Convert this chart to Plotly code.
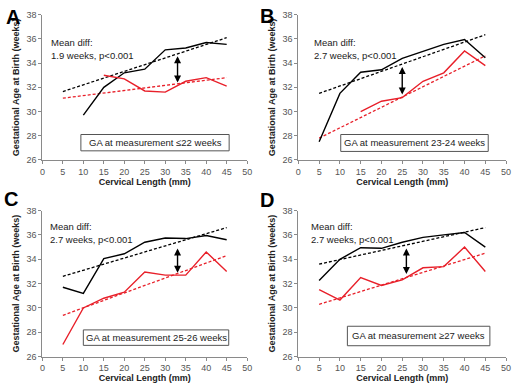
import plotly.graph_objects as go

cl = [5, 10, 15, 20, 25, 30, 35, 40, 45]

# Panel data (None = no point)
A_black = [None, 29.7, 32.0, 33.2, 33.5, 35.1, 35.25, 35.7, 35.55]
A_red = [None, None, 33.0, 32.7, 31.7, 31.6, 32.5, 32.8, 32.1]
A_black_fit = [31.65, 36.1]
A_red_fit = [31.1, 32.8]

B_black = [27.5, 31.5, 33.25, 33.45, 34.4, 34.95, 35.55, 35.95, 34.45]
B_red = [None, None, 30.0, 30.85, 31.15, 32.5, 33.2, 35.0, 33.8]
B_black_fit = [31.5, 36.35]
B_red_fit = [27.8, 34.6]

C_black = [31.7, 31.2, 34.05, 34.45, 35.4, 35.75, 35.7, 35.95, 35.6]
C_red = [27.0, 30.0, 30.8, 31.3, 32.95, 32.7, 32.7, 34.6, 33.0]
C_black_fit = [32.6, 36.6]
C_red_fit = [29.4, 34.3]

D_black = [32.25, 34.0, 34.95, 34.9, 35.4, 35.8, 36.0, 36.2, 35.0]
D_red = [31.5, 30.65, 32.5, 31.85, 32.3, 33.3, 33.4, 35.0, 33.0]
D_black_fit = [33.6, 36.6]
D_red_fit = [30.3, 34.5]

fit_x = [5, 45]
letters = ["A", "B", "C", "D"]
mean_diff = ["1.9 weeks, p<0.001", "2.7 weeks, p<0.001", "2.7 weeks, p<0.001", "2.7 weeks, p<0.001"]
box_labels = ["GA at measurement \u226422 weeks", "GA at measurement 23-24 weeks",
              "GA at measurement 25-26 weeks", "GA at measurement \u226527 weeks"]
arrow_x = [33, 25, 33, 26]
arrow_top = [34.7, 33.8, 35.0, 35.0]
arrow_bot = [32.4, 31.4, 32.9, 32.8]
text_x = [1.6, 3.4, 1.4, 2.5]
text_y = [(35.7, 34.65), (35.7, 34.65), (36.67, 35.65), (36.67, 35.65)]
box_x = [(9.4, 45.6), (10.2, 45.7), (10.0, 45.5), (11.8, 46.1)]
box_y = [(26.75, 28.1), (26.7, 28.1), (26.93, 28.2), (26.9, 28.5)]

panels = [
    (A_black, A_red, A_black_fit, A_red_fit),
    (B_black, B_red, B_black_fit, B_red_fit),
    (C_black, C_red, C_black_fit, C_red_fit),
    (D_black, D_red, D_black_fit, D_red_fit),
]

W, H = 517, 388
# pixel plot areas: (left, right, top, bottom)
areas = [(40, 248, 10, 159), (300, 511, 10, 159), (40, 248, 211, 361), (300, 511, 211, 361)]

FONT = "Liberation Sans, Arial, sans-serif"
fig = go.Figure()
layout = dict(width=W, height=H, margin=dict(l=0, r=0, t=0, b=0),
              paper_bgcolor="white", plot_bgcolor="white", showlegend=False,
              font=dict(family=FONT, color="#222"))
annotations = []
shapes = []

for i, (blk, red, bfit, rfit) in enumerate(panels):
    n = "" if i == 0 else str(i + 1)
    xa, ya = "x" + n, "y" + n
    l, r, t, b = areas[i]
    layout["xaxis" + n] = dict(domain=[l / W, r / W], range=[0, 50], dtick=5, anchor=ya,
                               showline=True, linecolor="#8a8a8a", linewidth=1, ticks="outside",
                               ticklen=3, tickcolor="#8a8a8a", showgrid=False, zeroline=False,
                               tickfont=dict(size=9, color="#555"),
                               title=dict(text="<b>Cervical Length (mm)</b>", font=dict(size=9, color="#222"), standoff=2))
    layout["yaxis" + n] = dict(domain=[1 - b / H, 1 - t / H], range=[26, 38], dtick=2, anchor=xa,
                               showline=True, linecolor="#8a8a8a", linewidth=1, ticks="outside",
                               ticklen=3, tickcolor="#8a8a8a", showgrid=False, zeroline=False,
                               tickfont=dict(size=9, color="#555"),
                               title=dict(text="<b>Gestational Age at Birth (weeks)</b>", font=dict(size=9, color="#222"), standoff=5))
    fig.add_trace(go.Scatter(x=fit_x, y=bfit, mode="lines", xaxis=xa, yaxis=ya,
                             line=dict(color="black", width=1.3, dash="3px,2px")))
    fig.add_trace(go.Scatter(x=fit_x, y=rfit, mode="lines", xaxis=xa, yaxis=ya,
                             line=dict(color="#e8202a", width=1.3, dash="3px,2px")))
    fig.add_trace(go.Scatter(x=cl, y=blk, mode="lines", xaxis=xa, yaxis=ya,
                             line=dict(color="black", width=1.4)))
    fig.add_trace(go.Scatter(x=cl, y=red, mode="lines", xaxis=xa, yaxis=ya,
                             line=dict(color="#e8202a", width=1.4)))
    annotations.append(dict(x=text_x[i], y=text_y[i][0], xref=xa, yref=ya, text="Mean diff:", showarrow=False,
                            xanchor="left", font=dict(size=9.5, color="#222")))
    annotations.append(dict(x=text_x[i], y=text_y[i][1], xref=xa, yref=ya, text=mean_diff[i], showarrow=False,
                            xanchor="left", font=dict(size=9.5, color="#222")))
    annotations.append(dict(x=arrow_x[i], y=arrow_bot[i], ax=arrow_x[i], ay=arrow_top[i],
                            xref=xa, yref=ya, axref=xa, ayref=ya, text="", showarrow=True,
                            arrowhead=2, startarrowhead=2, arrowside="end+start",
                            arrowwidth=1.4, arrowsize=1, arrowcolor="black"))
    shapes.append(dict(type="rect", xref=xa, yref=ya, x0=box_x[i][0], x1=box_x[i][1],
                       y0=box_y[i][0], y1=box_y[i][1], line=dict(color="#555", width=1),
                       fillcolor="white", layer="above"))
    annotations.append(dict(x=(box_x[i][0] + box_x[i][1]) / 2, y=(box_y[i][0] + box_y[i][1]) / 2,
                            xref=xa, yref=ya, text=box_labels[i], showarrow=False,
                            font=dict(size=9.5, color="#222")))

letter_pos = [(1, -1), (259, -2), (-1, 186), (259, 187)]
for (px, py), L in zip(letter_pos, letters):
    annotations.append(dict(x=px / W, y=1 - py / H, xref="paper", yref="paper", text="<b>" + L + "</b>",
                            showarrow=False, xanchor="left", yanchor="top",
                            font=dict(size=20, color="black", family="Liberation Sans, Arial")))

layout["annotations"] = annotations
layout["shapes"] = shapes
fig.update_layout(**layout)
fig.write_html("out.html", config={"displayModeBar": False},
               post_script="document.body.style.margin='0';document.body.style.padding='0';")
